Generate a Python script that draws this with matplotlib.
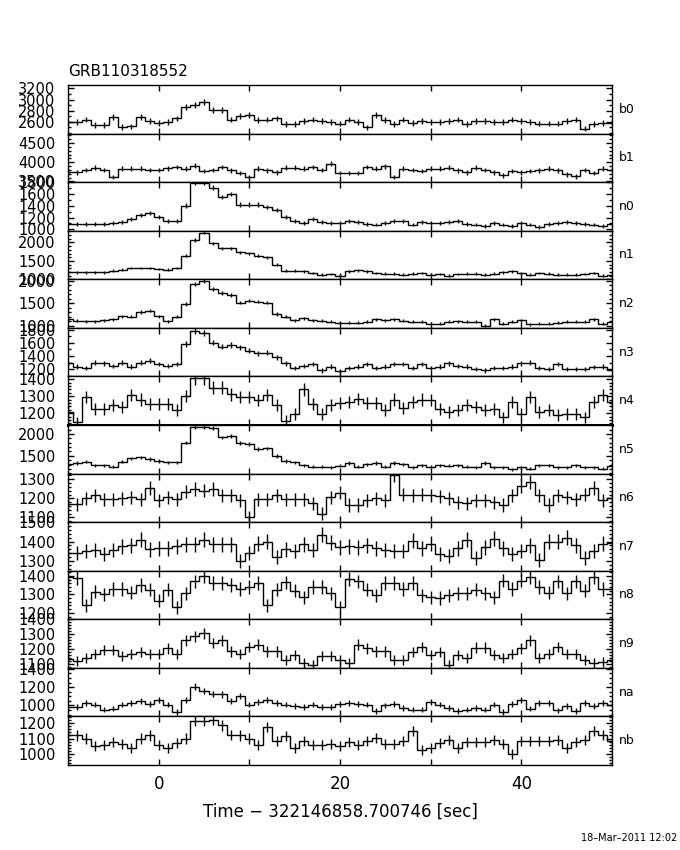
# GBM light curves, GRB110318552, one panel per detector

import numpy as np
import matplotlib.pyplot as plt
from matplotlib.ticker import MultipleLocator, NullLocator

t = np.arange(-10, 51)          # bin centres (s), 1 s bins
edges = np.arange(-10.5, 51.0, 1.0)

detectors = ['b0', 'b1', 'n0', 'n1', 'n2', 'n3', 'n4', 'n5', 'n6', 'n7', 'n8', 'n9', 'na', 'nb']

# rates (counts/s), t = -10 ... 50
b0 = [2590, 2600, 2640, 2540, 2540, 2690, 2510, 2520, 2680, 2620,
      2580, 2595, 2660, 2870, 2900, 2960, 2820, 2810, 2640, 2710,
      2720, 2630, 2640, 2660, 2560, 2560, 2620, 2640, 2620, 2600,
      2570, 2640, 2600, 2500, 2720, 2630, 2560, 2640, 2580, 2620,
      2600, 2600, 2620, 2640, 2560, 2620, 2620, 2600, 2600, 2640,
      2620, 2600, 2570, 2570, 2570, 2620, 2640, 2480, 2560, 2580,
      2580]
b1 = [3740, 3740, 3800, 3855, 3800, 3610, 3830, 3830, 3830, 3800,
      3800, 3845, 3875, 3830, 3915, 3770, 3800, 3875, 3785, 3715,
      3610, 3830, 3785, 3740, 3855, 3855, 3830, 3875, 3800, 3960,
      3715, 3715, 3715, 3875, 3830, 3890, 3610, 3830, 3800, 3770,
      3830, 3830, 3855, 3785, 3740, 3855, 3800, 3740, 3655, 3770,
      3740, 3770, 3785, 3830, 3785, 3680, 3630, 3800, 3715, 3830,
      3800]
n0 = [1090, 1090, 1090, 1090, 1090, 1100, 1120, 1175, 1250, 1275,
      1205, 1145, 1135, 1405, 1790, 1790, 1710, 1550, 1605, 1420,
      1420, 1420, 1375, 1330, 1205, 1135, 1100, 1175, 1120, 1100,
      1100, 1135, 1120, 1090, 1080, 1100, 1135, 1145, 1080, 1120,
      1100, 1100, 1120, 1135, 1090, 1080, 1060, 1100, 1080, 1060,
      1100, 1080, 1045, 1090, 1100, 1120, 1100, 1090, 1080, 1060,
      1090]
n1 = [1190, 1190, 1190, 1190, 1190, 1235, 1260, 1305, 1305, 1305,
      1280, 1260, 1305, 1640, 2070, 2265, 1980, 1845, 1845, 1730,
      1710, 1640, 1600, 1395, 1235, 1235, 1215, 1170, 1125, 1145,
      1100, 1215, 1245, 1215, 1170, 1155, 1155, 1125, 1155, 1170,
      1125, 1145, 1100, 1145, 1155, 1155, 1125, 1155, 1190, 1215,
      1170, 1125, 1170, 1155, 1125, 1125, 1125, 1145, 1170, 1100,
      1125]
n2 = [1140, 1110, 1105, 1105, 1125, 1150, 1215, 1200, 1305, 1335,
      1215, 1105, 1200, 1485, 1935, 2000, 1815, 1725, 1685, 1515,
      1560, 1535, 1515, 1260, 1200, 1125, 1165, 1125, 1110, 1090,
      1065, 1065, 1065, 1090, 1140, 1125, 1140, 1110, 1090, 1090,
      1050, 1050, 1090, 1105, 1090, 1090, 1005, 1140, 1050, 1090,
      1125, 1035, 1050, 1050, 1065, 1090, 1090, 1090, 1140, 1050,
      1090]
n3 = [1290, 1240, 1215, 1300, 1290, 1250, 1300, 1240, 1300, 1325,
      1280, 1250, 1280, 1580, 1780, 1750, 1600, 1540, 1565, 1530,
      1480, 1440, 1450, 1380, 1290, 1215, 1250, 1280, 1180, 1240,
      1165, 1215, 1240, 1280, 1215, 1240, 1280, 1280, 1215, 1280,
      1215, 1240, 1290, 1250, 1240, 1200, 1180, 1215, 1215, 1240,
      1290, 1300, 1215, 1200, 1280, 1200, 1200, 1200, 1230, 1240,
      1190]
n4 = [1205, 1145, 1295, 1225, 1225, 1245, 1235, 1305, 1280, 1255,
      1255, 1255, 1220, 1300, 1405, 1405, 1350, 1350, 1310, 1295,
      1295, 1275, 1305, 1250, 1155, 1195, 1340, 1255, 1195, 1245,
      1260, 1265, 1285, 1260, 1260, 1220, 1280, 1230, 1265, 1280,
      1275, 1225, 1205, 1220, 1250, 1235, 1220, 1225, 1175, 1265,
      1195, 1295, 1205, 1220, 1190, 1195, 1195, 1175, 1265, 1305,
      1265]
n5 = [1310, 1335, 1365, 1285, 1285, 1255, 1365, 1440, 1465, 1425,
      1385, 1350, 1350, 1805, 2150, 2150, 2135, 1920, 1960, 1790,
      1770, 1655, 1670, 1500, 1385, 1350, 1285, 1255, 1255, 1235,
      1270, 1335, 1255, 1310, 1335, 1255, 1335, 1310, 1235, 1285,
      1255, 1285, 1270, 1285, 1255, 1235, 1335, 1235, 1235, 1195,
      1235, 1210, 1285, 1285, 1235, 1235, 1285, 1235, 1235, 1210,
      1270]
n6 = [1170, 1170, 1200, 1215, 1195, 1195, 1200, 1205, 1195, 1255,
      1190, 1205, 1195, 1235, 1250, 1240, 1250, 1215, 1215, 1190,
      1100, 1195, 1195, 1215, 1195, 1195, 1195, 1175, 1120, 1205,
      1230, 1165, 1165, 1190, 1200, 1190, 1320, 1220, 1215, 1220,
      1215, 1210, 1200, 1180, 1175, 1190, 1190, 1180, 1165, 1215,
      1265, 1285, 1215, 1165, 1215, 1205, 1195, 1220, 1255, 1190,
      1200]
n7 = [1340, 1340, 1350, 1355, 1335, 1355, 1375, 1380, 1410, 1360,
      1365, 1365, 1375, 1385, 1385, 1410, 1385, 1385, 1385, 1300,
      1340, 1390, 1400, 1320, 1360, 1350, 1385, 1355, 1435, 1395,
      1370, 1375, 1370, 1380, 1365, 1355, 1350, 1350, 1405, 1365,
      1390, 1335, 1325, 1365, 1410, 1315, 1370, 1415, 1365, 1335,
      1350, 1380, 1305, 1400, 1400, 1420, 1380, 1315, 1350, 1390,
      1395]
n8 = [1395, 1390, 1240, 1315, 1300, 1330, 1330, 1310, 1350, 1325,
      1265, 1325, 1230, 1305, 1370, 1400, 1360, 1360, 1350, 1330,
      1340, 1360, 1240, 1325, 1365, 1320, 1285, 1340, 1340, 1305,
      1230, 1385, 1370, 1325, 1295, 1360, 1360, 1330, 1360, 1295,
      1285, 1280, 1295, 1305, 1305, 1325, 1305, 1285, 1375, 1330,
      1375, 1395, 1340, 1310, 1370, 1305, 1370, 1320, 1395, 1330,
      1330]
n9 = [1135, 1120, 1140, 1170, 1195, 1195, 1155, 1170, 1180, 1170,
      1170, 1205, 1170, 1260, 1285, 1305, 1240, 1260, 1185, 1170,
      1215, 1230, 1185, 1185, 1125, 1160, 1105, 1095, 1155, 1155,
      1125, 1105, 1230, 1205, 1185, 1185, 1125, 1125, 1180, 1215,
      1160, 1180, 1095, 1160, 1140, 1210, 1210, 1160, 1140, 1170,
      1205, 1260, 1140, 1170, 1215, 1170, 1170, 1125, 1105, 1115,
      1125]
na = [980, 980, 1025, 1010, 955, 965, 1010, 1025, 1045, 1020,
      1055, 1010, 930, 1060, 1205, 1155, 1125, 1120, 1045, 1100,
      1010, 1035, 1060, 1025, 1010, 990, 980, 1010, 980, 980,
      1020, 1025, 1020, 1010, 940, 1000, 1020, 975, 955, 955,
      1035, 1010, 975, 940, 955, 975, 955, 1010, 930, 1020,
      1060, 965, 1025, 1025, 945, 990, 940, 1025, 990, 1025,
      1010]
nb = [1120, 1120, 1100, 1050, 1060, 1080, 1065, 1040, 1100, 1120,
      1055, 1040, 1070, 1100, 1215, 1215, 1220, 1185, 1125, 1120,
      1100, 1055, 1175, 1085, 1115, 1040, 1085, 1060, 1055, 1065,
      1050, 1080, 1055, 1085, 1105, 1065, 1065, 1085, 1150, 1025,
      1040, 1070, 1090, 1040, 1075, 1075, 1075, 1090, 1065, 1000,
      1085, 1085, 1085, 1085, 1090, 1040, 1075, 1090, 1150, 1125,
      1085]

rates = [b0, b1, n0, n1, n2, n3, n4, n5, n6, n7, n8, n9, na, nb]

# y axis setup per panel
ylims = [(2390, 3260), (3480, 4750), (975, 1805), (1000, 2320), (955, 2030),
         (1090, 1825), (1130, 1416), (1095, 2205), (1075, 1330), (1250, 1500),
         (1165, 1428), (1075, 1400), (880, 1410), (928, 1244)]
yticks = [[2600, 2800, 3000, 3200], [3500, 4000, 4500], [1000, 1200, 1400, 1600, 1800],
          [1000, 1500, 2000], [1000, 1500, 2000], [1200, 1400, 1600, 1800],
          [1200, 1300, 1400], [1500, 2000], [1100, 1200, 1300], [1300, 1400, 1500],
          [1200, 1300, 1400], [1100, 1200, 1300, 1400], [1000, 1200, 1400],
          [1000, 1100, 1200]]
yminor = [100, 100, 100, 100, 100, 100, 20, 100, 20, 20, 20, 20, 50, 20]

fig, axes = plt.subplots(14, 1, sharex=True, figsize=(6.8, 8.5), dpi=100)
fig.subplots_adjust(left=0.1, right=0.9, top=0.9, bottom=0.1, hspace=0)

for ax, name, r, lim, tk, mn in zip(axes, detectors, rates, ylims, yticks, yminor):
    r = np.array(r, dtype=float)
    ax.stairs(r, edges, baseline=None, color='k', lw=1.0)
    ax.errorbar(t, r, yerr=np.sqrt(r), fmt='none', ecolor='k', elinewidth=1.0, capsize=0)
    ax.set_ylim(lim)
    ax.set_yticks(tk)
    ax.yaxis.set_minor_locator(MultipleLocator(mn))
    ax.xaxis.set_minor_locator(NullLocator())
    ax.tick_params(which='both', direction='in', left=True, right=True,
                   top=True, bottom=True, width=1.0)
    ax.tick_params(which='major', length=4.5)
    ax.tick_params(which='minor', length=2.3)
    ax.tick_params(axis='y', labelsize=10.5, pad=9)
    for s in ax.spines.values():
        s.set_linewidth(1.0)
    ax.text(1.012, 0.5, name, transform=ax.transAxes, fontsize=9,
            va='center', ha='left')

axes[6].spines['bottom'].set_linewidth(2.2)

axes[-1].set_xlim(-10, 50)
axes[-1].set_xticks([0, 10, 20, 30, 40], ['0', '', '20', '', '40'])
axes[-1].tick_params(axis='x', labelsize=12, pad=7)

fig.text(68 / 680, 1 - 71 / 850, 'GRB110318552', fontsize=11, ha='left', va='center')
fig.text(0.5, 1 - 812 / 850, 'Time \u2212 322146858.700746 [sec]', fontsize=12,
         ha='center', va='center')
fig.text(677 / 680, 1 - 838 / 850, '18\u2013Mar\u20132011 12:02', fontsize=7,
         ha='right', va='center')

fig.savefig('out.png', dpi=100)
